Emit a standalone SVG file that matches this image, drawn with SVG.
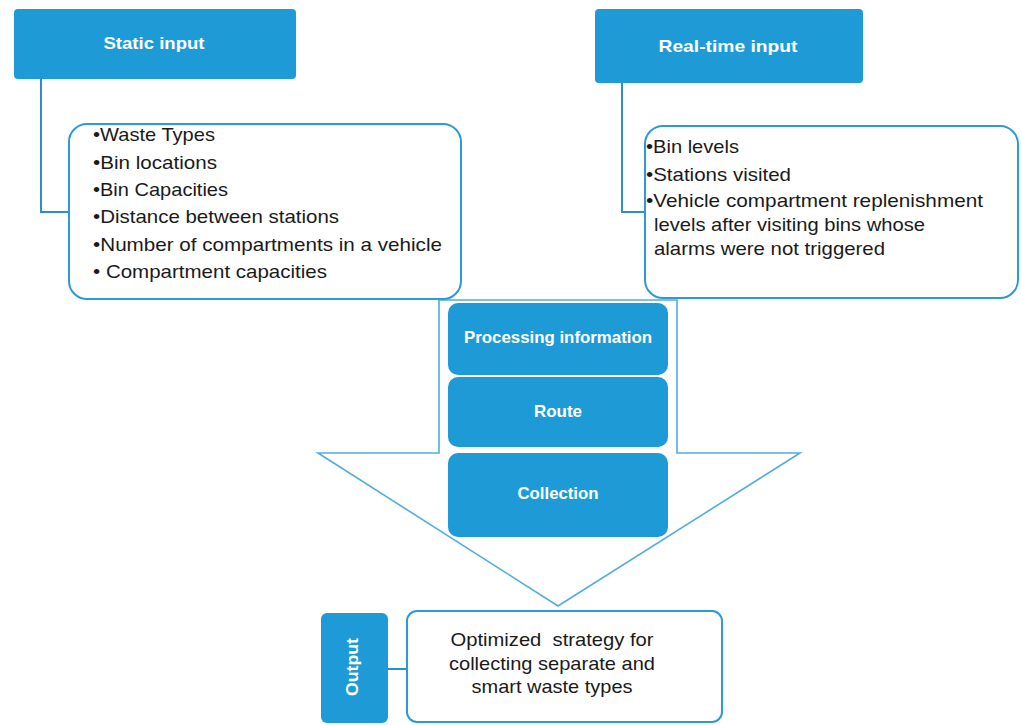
<svg xmlns="http://www.w3.org/2000/svg" width="1021" height="725" viewBox="0 0 1021 725">
<style>
.blue{fill:#1E9BD7;}
.hdr{fill:#ffffff;font-family:"Liberation Sans",Arial,sans-serif;font-weight:bold;font-size:17px;text-anchor:middle;}
.box{fill:#ffffff;stroke:#2D9AD8;stroke-width:2;}
.txt{fill:#1a1a1a;font-family:"Liberation Sans",Arial,sans-serif;font-size:19px;}
.ctr{text-anchor:middle;}
.con{fill:none;stroke:#2D8FC8;stroke-width:2;}
</style>
<rect width="1021" height="725" fill="#ffffff"/>
<g id="connectors">
<polyline class="con" points="41,79 41,212 69,212"/>
<polyline class="con" points="622,83 622,212 645,212"/>
<line class="con" x1="388" y1="669" x2="407" y2="669"/>
</g>
<g id="arrow">
<polygon points="439,300 677,300 677,453 800,453 558,606 318,453 439,453" fill="#ffffff" stroke="#52ACE0" stroke-width="1.6"/>
</g>
<g id="static-input">
<rect class="blue" x="14" y="9" width="282" height="70" rx="4"/>
<text class="hdr" x="154" y="49" textLength="101" lengthAdjust="spacingAndGlyphs">Static input</text>
</g>
<g id="static-list">
<rect class="box" x="69" y="124" width="392" height="175" rx="18"/>
<text class="txt" x="93" y="141" textLength="122" lengthAdjust="spacingAndGlyphs">•Waste Types</text>
<text class="txt" x="93" y="169" textLength="124" lengthAdjust="spacingAndGlyphs">•Bin locations</text>
<text class="txt" x="93" y="196" textLength="135" lengthAdjust="spacingAndGlyphs">•Bin Capacities</text>
<text class="txt" x="93" y="223" textLength="246" lengthAdjust="spacingAndGlyphs">•Distance between stations</text>
<text class="txt" x="93" y="251" textLength="349" lengthAdjust="spacingAndGlyphs">•Number of compartments in a vehicle</text>
<text class="txt" x="93" y="278" textLength="234" lengthAdjust="spacingAndGlyphs">• Compartment capacities</text>
</g>
<g id="realtime-input">
<rect class="blue" x="595" y="9" width="268" height="74" rx="4"/>
<text class="hdr" x="728" y="52" textLength="139" lengthAdjust="spacingAndGlyphs">Real-time input</text>
</g>
<g id="realtime-list">
<rect class="box" x="645" y="126" width="373" height="172" rx="18"/>
<text class="txt" x="646" y="153" textLength="93" lengthAdjust="spacingAndGlyphs">•Bin levels</text>
<text class="txt" x="646" y="181" textLength="145" lengthAdjust="spacingAndGlyphs">•Stations visited</text>
<text class="txt" x="646" y="207" textLength="337" lengthAdjust="spacingAndGlyphs">•Vehicle compartment replenishment</text>
<text class="txt" x="654" y="231" textLength="271" lengthAdjust="spacingAndGlyphs">levels after visiting bins whose</text>
<text class="txt" x="654" y="255" textLength="231" lengthAdjust="spacingAndGlyphs">alarms were not triggered</text>
</g>
<g id="processing">
<rect class="blue" x="448" y="303" width="220" height="72" rx="10"/>
<text class="hdr" x="558" y="343" textLength="188" lengthAdjust="spacingAndGlyphs">Processing information</text>
</g>
<g id="route">
<rect class="blue" x="448" y="377" width="220" height="70" rx="10"/>
<text class="hdr" x="558" y="417" textLength="48" lengthAdjust="spacingAndGlyphs">Route</text>
</g>
<g id="collection">
<rect class="blue" x="448" y="453" width="220" height="84" rx="10"/>
<text class="hdr" x="558" y="499" textLength="81" lengthAdjust="spacingAndGlyphs">Collection</text>
</g>
<g id="output">
<rect class="blue" x="321" y="613" width="67" height="110" rx="6"/>
<text class="hdr" transform="translate(358,667) rotate(-90)" x="0" y="0" textLength="58" lengthAdjust="spacingAndGlyphs">Output</text>
</g>
<g id="output-text">
<rect class="box" x="407" y="611" width="315" height="111" rx="10"/>
<text class="txt ctr" x="552" y="646" textLength="203" lengthAdjust="spacingAndGlyphs">Optimized&#160; strategy for</text>
<text class="txt ctr" x="552" y="670" textLength="206" lengthAdjust="spacingAndGlyphs">collecting separate and</text>
<text class="txt ctr" x="552" y="693" textLength="161" lengthAdjust="spacingAndGlyphs">smart waste types</text>
</g>
</svg>
